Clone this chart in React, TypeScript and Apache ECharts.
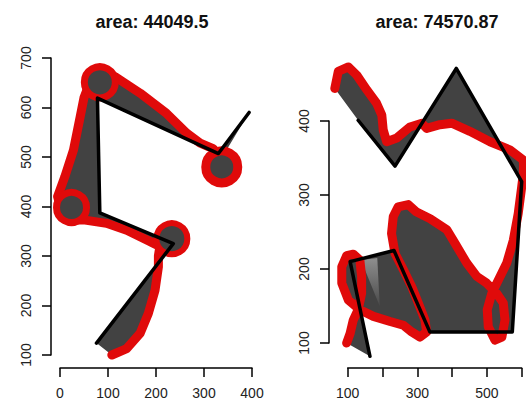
import React, { useEffect, useRef } from "react";
import * as echarts from "echarts";

// ---------- data ----------
const leftTitle = "area: 44049.5";
const rightTitle = "area: 74570.87";

// left panel: drawn path (black) and traced outline (red), circle marks
const leftPath: number[][] = [[76, 124], [236, 325], [83, 387], [78, 619], [330, 507], [394, 590]];
const leftTrace: number[][] = [
  [335, 495], [319, 517], [292, 528], [264, 548], [222, 588], [167, 629], [115, 662], [90, 668],
  [70, 660], [58, 640], [50, 620], [42, 581], [28, 514], [10, 460], [-5, 420], [5, 385], [25, 372],
  [49, 373], [97, 366], [139, 352], [188, 329], [208, 319], [205, 300], [205, 278], [198, 231],
  [184, 184], [167, 144], [139, 113], [108, 100],
];
const leftCircles: number[][] = [[83, 651], [24, 398], [233, 335], [337, 480]];
const leftXTicks = [0, 100, 200, 300, 400];
const leftYTicks = [100, 200, 300, 400, 500, 600, 700];

// right panel
const rightPath: number[][] = [
  [130, 401], [236, 339], [412, 471], [600, 318], [573, 115], [336, 115], [233, 225], [107, 210], [164, 82],
];
const rightTrace: number[][] = [
  [97, 100], [107, 113], [116, 131], [130, 145], [140, 167], [140, 190], [135, 212], [116, 220],
  [97, 218], [83, 203], [83, 181], [102, 158], [135, 145], [174, 136], [222, 129], [260, 124],
  [284, 115], [308, 108], [327, 115], [322, 131], [303, 154], [284, 176], [260, 199], [236, 221],
  [226, 248], [231, 271], [245, 284], [274, 287], [298, 277], [337, 268], [385, 253], [408, 235],
  [442, 208], [471, 190], [499, 181], [528, 167], [547, 154], [552, 131], [543, 108], [523, 104],
  [504, 122], [501, 145], [514, 167], [533, 185], [557, 208], [576, 239], [590, 275], [600, 311],
  [605, 330], [605, 347], [566, 361], [509, 372], [451, 386], [399, 397], [365, 395], [327, 390],
  [313, 397], [279, 392], [241, 377], [212, 372], [202, 388], [198, 408], [183, 424], [155, 442],
  [126, 462], [102, 473], [73, 467], [63, 444],
];
const rightShade: number[][] = [[138, 212], [185, 215], [192, 150]];
const rightXTicks = [100, 200, 300, 400, 500, 600];
const rightXLabels = [100, 300, 500];
const rightYTicks = [100, 200, 300, 400];

// ---------- layout / style ----------
const FONT = 'Arial, "Liberation Sans", Helvetica, sans-serif';
const GREY = "#424242";
const RED = "#e00a0a";
const CIRCLE_SIZE = [31, 30, 31, 32];
const CIRCLE_BORDER = [7, 7, 6, 9];

type Map = { x0: number; x0px: number; xs: number; y0: number; y0px: number; ys: number; axisX: number; axisY: number };
const LM: Map = { x0: 0, x0px: 60, xs: 0.48, y0: 700, y0px: 58, ys: 0.495, axisX: 51, axisY: 368 };
const RM: Map = { x0: 100, x0px: 347.7, xs: 0.348, y0: 400, y0px: 121, ys: 0.74, axisX: 329, axisY: 368 };

function gridFrom(m: Map, xmin: number, xmax: number, ymin: number, ymax: number) {
  return {
    left: m.x0px + (xmin - m.x0) * m.xs,
    top: m.y0px - (ymax - m.y0) * m.ys,
    width: (xmax - xmin) * m.xs,
    height: (ymax - ymin) * m.ys,
    containLabel: false,
    outerBoundsMode: "none",
  };
}

const axisBase = {
  type: "value",
  axisLine: { show: true, onZero: false, lineStyle: { color: "#000", width: 1.5 } },
  axisTick: { show: true, inside: false, length: 9, lineStyle: { color: "#000", width: 1.5 } },
  splitLine: { show: false },
  axisLabel: { fontSize: 14, color: "#222", fontFamily: FONT, margin: 18, showMinLabel: true, showMaxLabel: true },
};
const hidden = (gridIndex: number, min: number, max: number) => ({
  type: "value", gridIndex, min, max, show: false, splitLine: { show: false },
});

function polySeries(axis: number, pts: number[][], fill: any, z: number) {
  return {
    type: "custom",
    coordinateSystem: "cartesian2d",
    xAxisIndex: axis,
    yAxisIndex: axis,
    data: [pts[0]],
    silent: true,
    clip: false,
    z,
    renderItem: (_p: any, api: any) => ({
      type: "polygon",
      shape: { points: pts.map((p) => api.coord(p)) },
      style: { fill, stroke: "none" },
    }),
  };
}
function lineSeries(axis: number, pts: number[][], color: string, width: number, z: number) {
  return {
    type: "line",
    xAxisIndex: axis,
    yAxisIndex: axis,
    data: pts,
    showSymbol: false,
    symbol: "none",
    silent: true,
    clip: false,
    z,
    lineStyle: { color, width, cap: "round", join: "round" },
  };
}

export default function App() {
  const ref = useRef<HTMLDivElement>(null);
  useEffect(() => {
    if (!ref.current) return;
    const chart = echarts.init(ref.current, undefined, { renderer: "svg" });
    const leftX = [leftXTicks[0], leftXTicks[leftXTicks.length - 1]];
    const leftY = [leftYTicks[0], leftYTicks[leftYTicks.length - 1]];
    const rightX = [rightXTicks[0], rightXTicks[rightXTicks.length - 1]];
    const rightY = [rightYTicks[0], rightYTicks[rightYTicks.length - 1]];

    const option: any = {
      animation: false,
      backgroundColor: "#fff",
      grid: [
        gridFrom(LM, -60, 430, 50, 720),
        { left: LM.x0px, width: (leftX[1] - leftX[0]) * LM.xs, top: LM.axisY - 8, height: 8, containLabel: false, outerBoundsMode: "none" },
        { left: LM.axisX, width: 10, top: LM.y0px, height: (leftY[1] - leftY[0]) * LM.ys, containLabel: false, outerBoundsMode: "none" },
        gridFrom(RM, 40, 660, 60, 500),
        { left: RM.x0px, width: (rightX[1] - rightX[0]) * RM.xs, top: RM.axisY - 8, height: 8, containLabel: false, outerBoundsMode: "none" },
        { left: RM.axisX, width: 10, top: RM.y0px, height: (rightY[1] - rightY[0]) * RM.ys, containLabel: false, outerBoundsMode: "none" },
      ],
      xAxis: [
        hidden(0, -60, 430),
        { ...axisBase, gridIndex: 1, position: "bottom", min: leftX[0], max: leftX[1], interval: 100 },
        hidden(2, 0, 1),
        hidden(3, 40, 660),
        {
          ...axisBase,
          gridIndex: 4,
          position: "bottom",
          min: rightX[0],
          max: rightX[1],
          interval: 100,
          axisLabel: { ...axisBase.axisLabel, formatter: (v: number) => (rightXLabels.includes(v) ? String(v) : "") },
        },
        hidden(5, 0, 1),
      ],
      yAxis: [
        hidden(0, 50, 720),
        hidden(1, 0, 1),
        { ...axisBase, gridIndex: 2, position: "left", min: leftY[0], max: leftY[1], interval: 100, axisLabel: { ...axisBase.axisLabel, rotate: 90 } },
        hidden(3, 60, 500),
        hidden(4, 0, 1),
        { ...axisBase, gridIndex: 5, position: "left", min: rightY[0], max: rightY[1], interval: 100, axisLabel: { ...axisBase.axisLabel, rotate: 90 } },
      ],
      graphic: [
        { type: "text", x: 152, y: 22, z: 100, style: { text: leftTitle, fontSize: 18, fontWeight: "bold", fontFamily: FONT, fill: "#111", align: "center", verticalAlign: "middle" } },
        { type: "text", x: 437, y: 22, z: 100, style: { text: rightTitle, fontSize: 18, fontWeight: "bold", fontFamily: FONT, fill: "#111", align: "center", verticalAlign: "middle" } },
      ],
      series: [
        polySeries(0, [...leftPath, ...leftTrace], GREY, 1),
        lineSeries(0, leftTrace, RED, 9, 3),
        {
          type: "scatter",
          xAxisIndex: 0,
          yAxisIndex: 0,
          silent: true,
          clip: false,
          z: 4,
          data: leftCircles.map((p, i) => ({
            value: p,
            symbolSize: CIRCLE_SIZE[i],
            itemStyle: { color: GREY, borderColor: RED, borderWidth: CIRCLE_BORDER[i], opacity: 1 },
          })),
        },
        lineSeries(0, leftPath, "#000", 3.5, 5),
        polySeries(3, [...rightPath, ...rightTrace], GREY, 1),
        polySeries(
          3,
          rightShade,
          new echarts.graphic.LinearGradient(0, 0, 0, 1, [
            { offset: 0, color: "#8f8f8f" },
            { offset: 1, color: "#4a4a4a" },
          ]),
          2
        ),
        lineSeries(3, rightTrace, RED, 9, 3),
        lineSeries(3, rightPath, "#000", 3.5, 5),
      ],
    };
    chart.setOption(option);
    return () => chart.dispose();
  }, []);

  return (
    <div style={{ position: "absolute", left: 0, top: 0, width: 526, height: 402, overflow: "hidden", background: "#fff" }}>
      <div ref={ref} style={{ width: 560, height: 402 }} />
    </div>
  );
}
